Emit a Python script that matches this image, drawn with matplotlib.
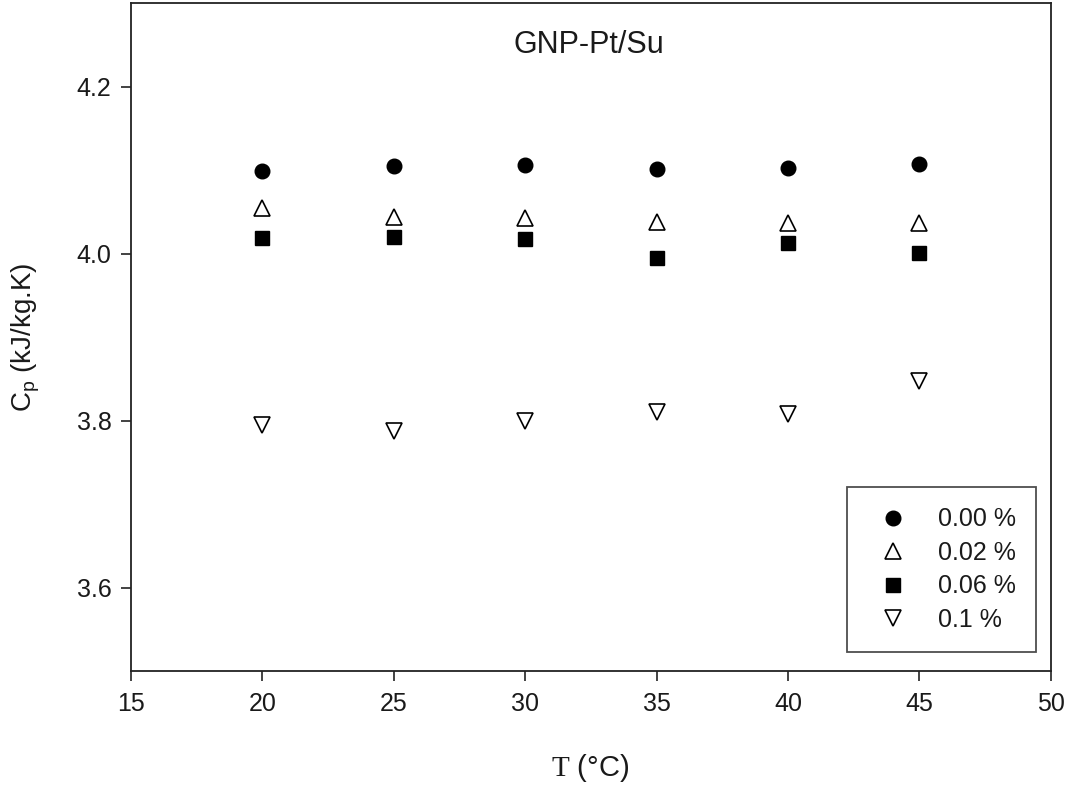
import numpy as np
import matplotlib
matplotlib.use("Agg")
import matplotlib.pyplot as plt

# ---------------- Daten ----------------
T_C = [20, 25, 30, 35, 40, 45]
cp_000 = [4.099, 4.105, 4.106, 4.101, 4.102, 4.107]
cp_002 = [4.055, 4.044, 4.042, 4.038, 4.036, 4.036]
cp_006 = [4.019, 4.020, 4.017, 3.995, 4.012, 4.001]
cp_010 = [3.795, 3.787, 3.799, 3.810, 3.808, 3.847]
labels = ["0.00 %", "0.02 %", "0.06 %", "0.1 %"]
x_ticks = [15, 20, 25, 30, 35, 40, 45, 50]
y_ticks = [3.6, 3.8, 4.0, 4.2]

# ---------------- Stil ----------------
plt.rcParams["font.family"] = ["Liberation Sans", "DejaVu Sans"]
plt.rcParams["mathtext.fontset"] = "custom"
plt.rcParams["mathtext.rm"] = "Liberation Serif"
plt.rcParams["mathtext.sf"] = "Liberation Sans"
TXT = "#1a1a1a"
MS = 11

fig = plt.figure(figsize=(10.75, 7.89), dpi=100)
W, H = 1075, 789
ax = fig.add_axes([131 / W, 1 - 671 / H, (1050.7 - 131) / W, (671 - 3) / H])

ax.plot(T_C, cp_000, "o", ms=MS - 0.5, color="black", mec="black", mew=1.0, label=labels[0])
ax.plot(T_C, cp_002, "^", ms=MS, mfc="white", mec="black", mew=1.2, label=labels[1])
ax.plot(T_C, cp_006, "s", ms=MS - 0.5, color="black", mec="black", mew=1.0, label=labels[2])
ax.plot(T_C, cp_010, "v", ms=MS, mfc="white", mec="black", mew=1.2, label=labels[3])

ax.set_xlim(15, 50)
ax.set_ylim(3.5, 4.3)
ax.set_xticks(x_ticks)
ax.set_yticks(y_ticks)
ax.set_yticklabels([f"{v:.1f}" for v in y_ticks])
ax.tick_params(axis="both", direction="out", length=7, width=1.2, labelsize=18,
               colors="#222222", labelcolor=TXT)
ax.tick_params(axis="x", pad=8)
ax.tick_params(axis="y", pad=7)
for s in ax.spines.values():
    s.set_linewidth(1.3)
    s.set_color("#222222")

ax.set_xlabel(r"$\mathrm{T}$ (°C)", fontsize=21, color=TXT, va="top")
ax.xaxis.set_label_coords((590 - 131) / 919.7, (671 - 752) / 668)
ax.set_ylabel(r"C$_\mathsf{p}$ (kJ/kg.K)", fontsize=20, color=TXT)
ax.yaxis.set_label_coords((42 - 131) / 919.7, (671 - 337) / 668)

ax.text((589 - 131) / 919.7, (671 - 45) / 668, "GNP-Pt/Su", transform=ax.transAxes,
        ha="center", va="center", fontsize=22, color=TXT)

leg = ax.legend(loc="upper left", bbox_to_anchor=(846.7 / W, 1 - 487.3 / H),
                bbox_transform=fig.transFigure, borderaxespad=0, fontsize=18,
                frameon=True, fancybox=False, handlelength=2.1, handletextpad=0.76,
                borderpad=0.8, labelspacing=0.38)
leg.get_frame().set_edgecolor("#222222")
leg.get_frame().set_linewidth(1.3)
for t in leg.get_texts():
    t.set_color(TXT)

fig.savefig("out.png", dpi=100)
